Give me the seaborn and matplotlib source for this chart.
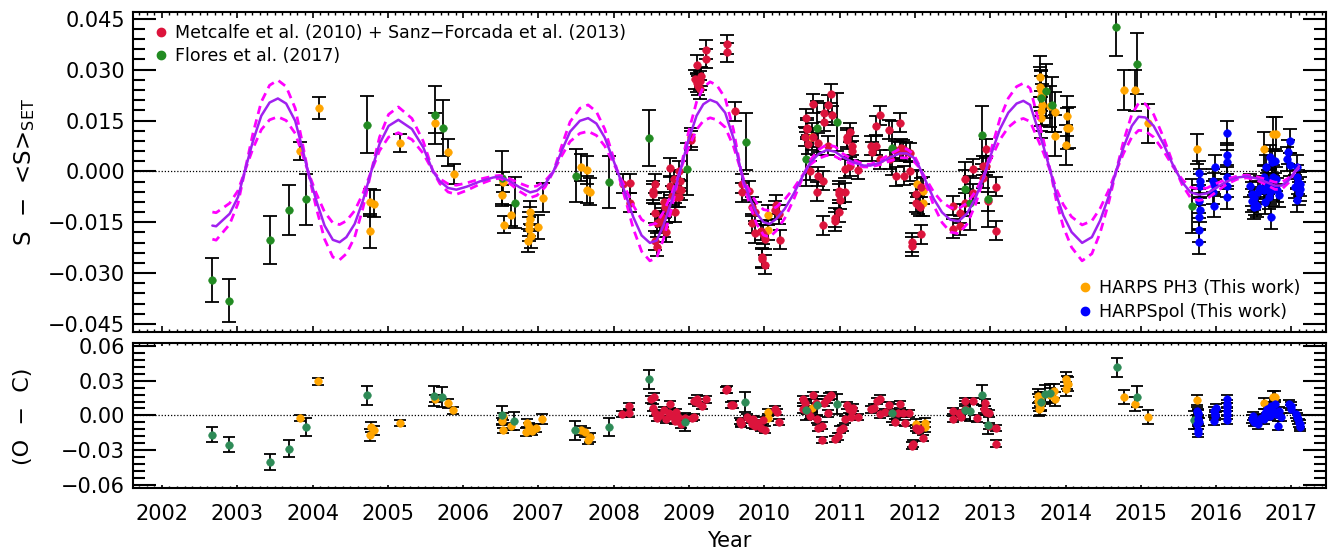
import numpy as np
import pandas as pd
import matplotlib
matplotlib.use("Agg")
import matplotlib.pyplot as plt
from matplotlib.ticker import MultipleLocator, FuncFormatter
from matplotlib.lines import Line2D
import seaborn as sns

# ---- fitted cycle (solid) and its two dashed envelopes ----
fit_year = [2002.67, 2002.72, 2002.90, 2003.01, 2003.10, 2003.21, 2003.32, 2003.43, 2003.54, 2003.65,
            2003.77, 2003.85, 2003.94, 2004.05, 2004.16, 2004.27, 2004.36, 2004.45, 2004.56, 2004.67,
            2004.78, 2004.89, 2005.01, 2005.14, 2005.32, 2005.47, 2005.60, 2005.69, 2005.80, 2005.91,
            2006.05, 2006.22, 2006.40, 2006.49, 2006.62, 2006.75, 2006.89, 2006.98, 2007.09, 2007.20,
            2007.31, 2007.42, 2007.55, 2007.66, 2007.77, 2007.88, 2007.99, 2008.08, 2008.17, 2008.26,
            2008.37, 2008.48, 2008.57, 2008.66, 2008.77, 2008.88, 2008.99, 2009.10, 2009.19, 2009.28,
            2009.37, 2009.48, 2009.59, 2009.68, 2009.72, 2009.81, 2009.90, 2009.99, 2010.07, 2010.16,
            2010.27, 2010.39, 2010.50, 2010.61, 2010.72, 2010.83, 2010.94, 2011.05, 2011.19, 2011.32,
            2011.41, 2011.54, 2011.67, 2011.80, 2011.89, 2011.98, 2012.05, 2012.14, 2012.25, 2012.36,
            2012.47, 2012.58, 2012.69, 2012.80, 2012.91, 2013.02, 2013.13, 2013.24, 2013.35, 2013.44,
            2013.53, 2013.62, 2013.71, 2013.80, 2013.88, 2013.97, 2014.08, 2014.22, 2014.35, 2014.46,
            2014.57, 2014.66, 2014.77, 2014.88, 2014.97, 2015.06, 2015.17, 2015.30, 2015.43, 2015.55,
            2015.66, 2015.77, 2015.88, 2016.01, 2016.14, 2016.28, 2016.41, 2016.54, 2016.67, 2016.78,
            2016.87, 2016.96, 2017.04, 2017.10]
fit_s = [-0.0160, -0.0162, -0.0125, -0.0076, 0.0000, 0.0090, 0.0164, 0.0203, 0.0215, 0.0200,
         0.0149, 0.0081, 0.0000, -0.0086, -0.0160, -0.0202, -0.0209, -0.0194, -0.0155, -0.0086,
         0.0000, 0.0081, 0.0134, 0.0152, 0.0125, 0.0071, 0.0000, -0.0029, -0.0049, -0.0054,
         -0.0045, -0.0030, -0.0018, -0.0016, -0.0029, -0.0047, -0.0062, -0.0057, -0.0037, 0.0000,
         0.0061, 0.0117, 0.0149, 0.0157, 0.0141, 0.0100, 0.0036, -0.0018, -0.0076, -0.0135,
         -0.0189, -0.0211, -0.0204, -0.0160, -0.0086, 0.0000, 0.0090, 0.0164, 0.0198, 0.0211,
         0.0203, 0.0173, 0.0098, 0.0012, -0.0027, -0.0081, -0.0125, -0.0150, -0.0155, -0.0140,
         -0.0111, -0.0066, -0.0018, 0.0026, 0.0051, 0.0063, 0.0058, 0.0041, 0.0026, 0.0017,
         0.0017, 0.0026, 0.0041, 0.0053, 0.0053, 0.0041, 0.0017, -0.0027, -0.0081, -0.0121,
         -0.0143, -0.0147, -0.0125, -0.0081, -0.0018, 0.0056, 0.0125, 0.0173, 0.0200, 0.0208,
         0.0196, 0.0134, 0.0071, 0.0000, -0.0071, -0.0130, -0.0179, -0.0211, -0.0194, -0.0145,
         -0.0076, -0.0008, 0.0071, 0.0134, 0.0161, 0.0159, 0.0134, 0.0081, 0.0017, -0.0032,
         -0.0062, -0.0069, -0.0065, -0.0047, -0.0030, -0.0018, -0.0015, -0.0021, -0.0032, -0.0042,
         -0.0042, -0.0027, -0.0003, 0.0015]
fit_outer = [-0.0200, -0.0203, -0.0156, -0.0095, 0.0000, 0.0113, 0.0205, 0.0254, 0.0269, 0.0250,
             0.0186, 0.0101, 0.0000, -0.0108, -0.0200, -0.0253, -0.0261, -0.0243, -0.0194, -0.0108,
             0.0000, 0.0101, 0.0168, 0.0190, 0.0156, 0.0089, 0.0000, -0.0036, -0.0061, -0.0068,
             -0.0056, -0.0038, -0.0023, -0.0020, -0.0036, -0.0059, -0.0078, -0.0071, -0.0046, 0.0000,
             0.0076, 0.0146, 0.0186, 0.0196, 0.0176, 0.0125, 0.0045, -0.0023, -0.0095, -0.0169,
             -0.0236, -0.0264, -0.0255, -0.0200, -0.0108, 0.0000, 0.0113, 0.0205, 0.0248, 0.0264,
             0.0254, 0.0216, 0.0123, 0.0015, -0.0034, -0.0101, -0.0156, -0.0188, -0.0194, -0.0175,
             -0.0139, -0.0083, -0.0023, 0.0033, 0.0064, 0.0079, 0.0073, 0.0051, 0.0033, 0.0021,
             0.0021, 0.0033, 0.0051, 0.0066, 0.0066, 0.0051, 0.0021, -0.0034, -0.0101, -0.0151,
             -0.0179, -0.0184, -0.0156, -0.0101, -0.0023, 0.0070, 0.0156, 0.0216, 0.0250, 0.0260,
             0.0245, 0.0168, 0.0089, 0.0000, -0.0089, -0.0163, -0.0224, -0.0264, -0.0243, -0.0181,
             -0.0095, -0.0010, 0.0089, 0.0168, 0.0201, 0.0199, 0.0168, 0.0101, 0.0021, -0.0040,
             -0.0078, -0.0086, -0.0081, -0.0059, -0.0038, -0.0023, -0.0019, -0.0026, -0.0040, -0.0053,
             -0.0053, -0.0034, -0.0004, 0.0019]
fit_inner = [-0.0120, -0.0122, -0.0094, -0.0057, 0.0000, 0.0068, 0.0123, 0.0152, 0.0161, 0.0150,
             0.0112, 0.0061, 0.0000, -0.0065, -0.0120, -0.0152, -0.0157, -0.0146, -0.0116, -0.0065,
             0.0000, 0.0061, 0.0101, 0.0114, 0.0094, 0.0053, 0.0000, -0.0022, -0.0037, -0.0041,
             -0.0034, -0.0023, -0.0014, -0.0012, -0.0022, -0.0035, -0.0047, -0.0043, -0.0028, 0.0000,
             0.0046, 0.0088, 0.0112, 0.0118, 0.0106, 0.0075, 0.0027, -0.0014, -0.0057, -0.0101,
             -0.0142, -0.0158, -0.0153, -0.0120, -0.0065, 0.0000, 0.0068, 0.0123, 0.0149, 0.0158,
             0.0152, 0.0130, 0.0074, 0.0009, -0.0020, -0.0061, -0.0094, -0.0113, -0.0116, -0.0105,
             -0.0083, -0.0050, -0.0014, 0.0020, 0.0038, 0.0047, 0.0044, 0.0031, 0.0020, 0.0013,
             0.0013, 0.0020, 0.0031, 0.0040, 0.0040, 0.0031, 0.0013, -0.0020, -0.0061, -0.0091,
             -0.0107, -0.0110, -0.0094, -0.0061, -0.0014, 0.0042, 0.0094, 0.0130, 0.0150, 0.0156,
             0.0147, 0.0101, 0.0053, 0.0000, -0.0053, -0.0098, -0.0134, -0.0158, -0.0146, -0.0109,
             -0.0057, -0.0006, 0.0053, 0.0101, 0.0121, 0.0119, 0.0101, 0.0061, 0.0013, -0.0024,
             -0.0047, -0.0052, -0.0049, -0.0035, -0.0023, -0.0014, -0.0011, -0.0016, -0.0024, -0.0032,
             -0.0032, -0.0020, -0.0002, 0.0011]

# ---- Metcalfe et al. (2010) + Sanz-Forcada et al. (2013) ----
red_t = [2008.12, 2008.21, 2008.21, 2008.52, 2008.52, 2008.55, 2008.55, 2008.57, 2008.55, 2008.58,
         2008.61, 2008.64, 2008.67, 2008.68, 2008.67, 2008.70, 2008.73, 2008.75, 2008.75, 2008.77,
         2008.80, 2008.81, 2008.83, 2008.85, 2008.87, 2008.87, 2008.88, 2008.89, 2009.02, 2009.03,
         2009.10, 2009.08, 2009.10, 2009.14, 2009.16, 2009.12, 2009.14, 2009.23, 2009.23, 2009.50, 2009.50, 2009.61,
         2009.70, 2009.70, 2009.79, 2009.83, 2009.87, 2009.84, 2009.88, 2009.95, 2009.98, 2010.01,
         2009.97, 2009.97, 2010.01, 2010.15, 2010.14, 2010.20, 2010.21,
         2010.55, 2010.57, 2010.57, 2010.54, 2010.58, 2010.64, 2010.65, 2010.71, 2010.60, 2010.71,
         2010.70, 2010.78, 2010.78, 2010.79, 2010.79, 2010.85, 2010.89, 2010.90, 2010.85, 2010.99,
         2010.99, 2011.00, 2011.07, 2010.99, 2010.94, 2010.94, 2011.07, 2011.10, 2011.10, 2011.14,
         2011.14, 2011.16, 2011.17, 2011.24,
         2011.42, 2011.43, 2011.48, 2011.48, 2011.53, 2011.53, 2011.66, 2011.67, 2011.74, 2011.75,
         2011.80, 2011.80, 2011.82, 2011.84, 2011.86, 2011.88, 2011.93, 2011.94,
         2011.96, 2011.96, 2012.02, 2012.01, 2012.04, 2012.07, 2012.08, 2012.08,
         2012.51, 2012.51, 2012.60, 2012.60, 2012.66, 2012.66, 2012.77, 2012.77, 2012.91, 2012.91,
         2012.94, 2012.94, 2012.97, 2013.08, 2013.08]
red_s = [-0.0037, -0.0035, -0.0093, -0.0057, -0.0066, -0.0037, -0.0123, -0.0153, -0.0204, -0.0223,
         -0.0147, -0.0135, -0.0089, -0.0106, -0.0165, -0.0180, -0.0120, 0.0010, -0.0042, -0.0072,
         -0.0023, -0.0120, -0.0077, -0.0052, 0.0002, -0.0077, -0.0029, -0.0056, 0.0100, 0.0092,
         0.0314, 0.0272, 0.0262, 0.0267, 0.0281, 0.0252, 0.0242, 0.0358, 0.0332, 0.0375, 0.0351, 0.0178,
         -0.0037, -0.0062, -0.0057, -0.0104, -0.0119, -0.0153, -0.0183, -0.0175, -0.0185, -0.0200,
         -0.0253, -0.0258, -0.0275, -0.0098, -0.0114, -0.0126, -0.0202,
         0.0156, 0.0129, 0.0124, 0.0102, 0.0080, 0.0200, 0.0100, 0.0085, 0.0002, -0.0015,
         -0.0060, -0.0028, -0.0159, 0.0173, 0.0146, 0.0197, 0.0229, 0.0166, 0.0075, -0.0057,
         -0.0066, -0.0084, -0.0062, -0.0120, -0.0137, -0.0147, 0.0007, 0.0100, 0.0093, 0.0115,
         0.0015, 0.0075, 0.0061, 0.0004,
         0.0075, 0.0058, 0.0075, 0.0134, 0.0165, 0.0036, 0.0123, 0.0036, 0.0063, -0.0015,
         0.0144, 0.0060, 0.0068, 0.0065, -0.0013, 0.0060, 0.0055, 0.0000,
         -0.0209, -0.0221, -0.0066, -0.0093, -0.0098, -0.0104, -0.0047, -0.0186,
         -0.0101, -0.0170, -0.0123, -0.0160, -0.0023, -0.0093, 0.0007, -0.0065, 0.0017, -0.0021,
         0.0067, 0.0017, -0.0088, -0.0046, -0.0175]
red_err = 0.0028

red_rt = [2008.11, 2008.20, 2008.20, 2008.50, 2008.53, 2008.52, 2008.55, 2008.57, 2008.62, 2008.67,
          2008.70, 2008.73, 2008.75, 2008.78, 2008.81, 2008.83, 2008.85, 2008.89, 2008.94, 2009.04,
          2009.06, 2009.07, 2009.12, 2009.17, 2009.10, 2009.22, 2009.49, 2009.50, 2009.56, 2009.59,
          2009.68, 2009.69, 2009.77, 2009.80, 2009.83, 2009.85, 2009.91, 2009.96, 2010.01, 2009.98,
          2009.69, 2009.87, 2010.14, 2010.17, 2010.20,
          2010.52, 2010.54, 2010.52, 2010.57, 2010.60, 2010.64, 2010.69, 2010.70, 2010.71, 2010.77,
          2010.77, 2010.79, 2010.83, 2010.86, 2010.89, 2010.85, 2010.94, 2010.98, 2011.01, 2011.05,
          2011.07, 2011.10, 2011.13, 2011.16, 2011.15, 2011.18, 2011.25,
          2011.42, 2011.46, 2011.49, 2011.54, 2011.54, 2011.60, 2011.65, 2011.69, 2011.73, 2011.77,
          2011.80, 2011.84, 2011.87, 2011.92,
          2011.96, 2011.97, 2012.02, 2012.04, 2012.07, 2012.11,
          2012.50, 2012.50, 2012.58, 2012.61, 2012.66, 2012.66, 2012.77, 2012.83, 2012.93, 2012.92,
          2012.95, 2012.99, 2012.99, 2013.08, 2013.08]
red_r = [0.0014, 0.0081, 0.0017, 0.0139, 0.0162, 0.0067, 0.0023, -0.0020, 0.0000, 0.0046,
         -0.0035, 0.0017, 0.0096, -0.0006, -0.0049, 0.0029, -0.0012, -0.0078, -0.0020, -0.0020,
         -0.0012, 0.0125, 0.0110, 0.0081, 0.0145, 0.0139, 0.0220, 0.0226, 0.0090, 0.0093,
         -0.0049, -0.0064, -0.0012, -0.0035, -0.0078, -0.0029, -0.0064, -0.0107, -0.0122, -0.0043,
         -0.0071, -0.0093, 0.0052, 0.0029, -0.0058,
         0.0139, 0.0110, 0.0052, 0.0038, -0.0006, 0.0174, 0.0110, -0.0035, -0.0107, -0.0087,
         -0.0214, 0.0110, 0.0139, 0.0162, 0.0174, 0.0017, -0.0203, -0.0180, -0.0122, -0.0107,
         -0.0035, 0.0087, 0.0052, 0.0038, -0.0012, 0.0067, -0.0014,
         0.0052, 0.0067, 0.0125, 0.0145, 0.0009, 0.0029, 0.0087, 0.0023, -0.0058, 0.0017,
         0.0096, 0.0017, -0.0064, 0.0017,
         -0.0261, -0.0243, -0.0107, -0.0122, -0.0116, -0.0194,
         0.0038, -0.0029, 0.0017, -0.0012, 0.0125, 0.0052, 0.0125, -0.0026, 0.0110, 0.0052,
         0.0029, -0.0093, 0.0017, -0.0107, -0.0243]

# ---- Flores et al. (2017) ----
grn_t = [2002.66, 2002.89, 2003.43, 2003.69, 2003.92, 2004.73, 2005.62, 2005.73, 2006.52, 2006.69,
         2007.50, 2007.94, 2008.47, 2008.97, 2009.75, 2010.55, 2010.70, 2010.96, 2011.70, 2012.66,
         2012.73, 2012.89, 2012.97, 2013.67, 2013.74, 2013.82, 2014.67, 2014.95, 2015.68]
grn_s = [-0.0321, -0.0382, -0.0202, -0.0113, -0.0083, 0.0137, 0.0167, 0.0128, -0.0019, -0.0092,
         -0.0013, -0.0032, 0.0098, 0.0007, 0.0088, 0.0036, 0.0127, 0.0146, 0.0068, -0.0052,
         -0.0093, 0.0107, -0.0083, 0.0215, 0.0237, 0.0197, 0.0426, 0.0318, -0.0103]
grn_e = [0.0065, 0.0063, 0.0070, 0.0074, 0.0075, 0.0084, 0.0086, 0.0083, 0.0078, 0.0076,
         0.0078, 0.0077, 0.0083, 0.0078, 0.0083, 0.0080, 0.0080, 0.0085, 0.0080, 0.0080,
         0.0080, 0.0085, 0.0080, 0.0080, 0.0080, 0.0080, 0.0085, 0.0090, 0.0080]
grn_rt = [2002.66, 2002.89, 2003.44, 2003.69, 2003.92, 2004.73, 2005.61, 2005.72, 2006.51, 2006.68,
          2007.49, 2007.94, 2008.47, 2008.95, 2009.74, 2010.55, 2010.70, 2010.96, 2011.69, 2012.66,
          2012.73, 2012.89, 2012.97, 2013.67, 2013.73, 2013.80, 2014.68, 2014.95, 2015.70]
grn_r = [-0.0165, -0.0252, -0.0403, -0.0287, -0.0099, 0.0174, 0.0168, 0.0159, 0.0000, -0.0049,
         -0.0130, -0.0099, 0.0313, -0.0058, 0.0116, 0.0043, 0.0087, 0.0096, 0.0023, 0.0046,
         0.0035, 0.0174, -0.0080, 0.0120, 0.0183, 0.0191, 0.0414, 0.0162, -0.0041]

# ---- HARPS PH3 (this work) ----
org_t = [2003.83, 2004.08, 2004.77, 2004.81, 2004.77, 2005.16, 2005.63, 2005.80, 2005.88,
         2006.53, 2006.52, 2006.54, 2006.64, 2006.89, 2006.89, 2006.88, 2006.87, 2006.86, 2006.90, 2006.99, 2007.06,
         2007.57, 2007.64, 2007.65, 2007.68, 2010.05, 2010.05, 2010.63, 2012.03, 2012.11, 2012.11,
         2013.66, 2013.66, 2013.67, 2013.67, 2013.69, 2013.67, 2013.67, 2013.79, 2013.86, 2013.86,
         2014.02, 2014.02, 2014.04, 2014.01,
         2014.78, 2014.92, 2015.09, 2015.75, 2016.63, 2016.76, 2016.79]
org_s = [0.0061, 0.0186, -0.0091, -0.0096, -0.0176, 0.0083, 0.0142, 0.0056, -0.0008,
         -0.0032, -0.0071, -0.0157, -0.0130, -0.0121, -0.0141, -0.0156, -0.0170, -0.0204, -0.0192, -0.0165, -0.0078,
         0.0012, 0.0004, -0.0054, -0.0060, -0.0128, -0.0173, 0.0102, -0.0037, -0.0057, -0.0093,
         0.0279, 0.0249, 0.0239, 0.0222, 0.0197, 0.0178, 0.0158, 0.0192, 0.0175, 0.0105,
         0.0163, 0.0127, 0.0129, 0.0078,
         0.0240, 0.0239, 0.0142, 0.0066, 0.0067, 0.0109, 0.0111]
org_e = [0.0027, 0.0033, 0.0040, 0.0040, 0.0050, 0.0026, 0.0030, 0.0040, 0.0030,
         0.0030, 0.0030, 0.0025, 0.0030, 0.0035, 0.0035, 0.0035, 0.0035, 0.0035, 0.0035, 0.0035, 0.0043,
         0.0040, 0.0040, 0.0040, 0.0040, 0.0030, 0.0030, 0.0040, 0.0040, 0.0040, 0.0040,
         0.0060, 0.0060, 0.0060, 0.0060, 0.0060, 0.0060, 0.0060, 0.0060, 0.0060, 0.0060,
         0.0060, 0.0060, 0.0060, 0.0060,
         0.0059, 0.0060, 0.0057, 0.0045, 0.0050, 0.0050, 0.0050]
org_rt = [2003.84, 2004.07, 2004.78, 2004.82, 2004.77, 2005.16, 2005.62, 2005.80, 2005.87,
          2006.53, 2006.52, 2006.53, 2006.64, 2006.85, 2006.88, 2006.90, 2006.84, 2006.92, 2006.97, 2006.89, 2007.05,
          2007.56, 2007.62, 2007.66, 2007.68, 2010.05, 2010.05, 2010.63, 2012.02, 2012.14, 2012.14,
          2013.64, 2013.64, 2013.65, 2013.66, 2013.65, 2013.66, 2013.67, 2013.79, 2013.85, 2013.86,
          2014.01, 2014.02, 2014.01, 2014.03,
          2014.78, 2014.92, 2015.10, 2015.75, 2016.63, 2016.76, 2016.78]
org_r = [-0.0020, 0.0293, -0.0099, -0.0128, -0.0171, -0.0064, 0.0145, 0.0104, 0.0046,
         -0.0006, -0.0049, -0.0130, -0.0093, -0.0064, -0.0099, -0.0122, -0.0145, -0.0136, -0.0107, -0.0115, -0.0029,
         -0.0128, -0.0145, -0.0209, -0.0190, 0.0029, -0.0020, 0.0067, -0.0070, -0.0064, -0.0099,
         0.0125, 0.0168, 0.0096, 0.0067, 0.0052, 0.0145, 0.0110, 0.0174, 0.0212, 0.0145,
         0.0313, 0.0284, 0.0226, 0.0270,
         0.0159, 0.0096, -0.0014, 0.0133, 0.0104, 0.0159, 0.0162]

# ---- HARPSpol (this work) ----
blu_t = [2015.77, 2015.78, 2015.78, 2015.77, 2015.78, 2015.77, 2015.77, 2015.77,
         2015.96, 2015.97, 2015.96, 2015.97, 2015.99,
         2016.15, 2016.14, 2016.15, 2016.15, 2016.15, 2016.15,
         2016.45, 2016.47, 2016.48, 2016.50, 2016.50, 2016.52, 2016.54, 2016.56, 2016.58, 2016.63,
         2016.63, 2016.65, 2016.66, 2016.68, 2016.69, 2016.70, 2016.71, 2016.72, 2016.73, 2016.74,
         2016.75, 2016.76, 2016.78, 2016.80, 2016.81, 2016.83,
         2016.94, 2016.96, 2016.98, 2016.98, 2017.05, 2017.07, 2017.07, 2017.08, 2017.09, 2017.10,
         2017.11, 2017.12]
blu_s = [-0.0004, -0.0029, -0.0042, -0.0088, -0.0115, -0.0135, -0.0173, -0.0209,
         -0.0027, -0.0039, -0.0062, -0.0101, 0.0013,
         0.0113, 0.0049, 0.0027, -0.0017, -0.0042, -0.0077,
         -0.0042, -0.0066, -0.0086, -0.0106, -0.0080, -0.0095, -0.0101, -0.0062, -0.0048, -0.0017,
         -0.0056, -0.0091, 0.0013, -0.0040, -0.0032, -0.0075, 0.0043, -0.0062, -0.0136, 0.0028,
         -0.0017, -0.0050, 0.0031, -0.0022, -0.0056, -0.0071,
         0.0037, 0.0057, 0.0089, 0.0020, -0.0045, 0.0012, -0.0017, -0.0084, -0.0032, -0.0065,
         -0.0052, -0.0037]
blu_err = 0.0035
blu_rt = [2015.75, 2015.76, 2015.76, 2015.75, 2015.76, 2015.76, 2015.77, 2015.76,
          2015.97, 2015.98, 2015.97, 2016.00, 2015.99,
          2016.15, 2016.14, 2016.15, 2016.15, 2016.15, 2016.15,
          2016.48, 2016.50, 2016.55, 2016.49, 2016.53, 2016.60, 2016.63, 2016.65, 2016.68, 2016.70,
          2016.71, 2016.73, 2016.76, 2016.78, 2016.80, 2016.82, 2016.83, 2016.86,
          2016.97, 2016.99, 2017.00, 2017.06, 2017.08, 2017.09, 2017.10, 2017.11, 2017.12]
blu_r = [0.0038, 0.0009, -0.0035, -0.0078, -0.0122, -0.0150, -0.0060, 0.0020,
         0.0038, -0.0006, -0.0049, 0.0067, 0.0015,
         0.0145, 0.0096, 0.0038, 0.0000, -0.0043, 0.0070,
         -0.0029, -0.0058, -0.0078, -0.0006, -0.0045, -0.0020, -0.0035, 0.0017, 0.0052, 0.0025,
         -0.0006, 0.0081, 0.0038, 0.0096, 0.0009, -0.0087, 0.0038, -0.0012,
         0.0096, 0.0052, 0.0081, 0.0009, -0.0012, -0.0035, -0.0064, -0.0078, -0.0099]

RED = "#DC143C"
GREEN = "#228B22"
GREEN2 = "#2E8B57"
ORANGE = "#FFA500"
BLUE = "#0000FF"

sns.set_style("ticks")
plt.rcParams['font.family'] = ['DejaVu Sans']
plt.rcParams['text.color'] = 'black'
plt.rcParams['axes.labelcolor'] = 'black'

fig = plt.figure(figsize=(13.29, 5.51), dpi=100)
ax1 = fig.add_axes([0.1003, 0.398, 0.8975, 0.5808])
ax2 = fig.add_axes([0.1003, 0.1138, 0.8975, 0.2632])


def draw_set(ax, t, v, e, color, cap):
    df = pd.DataFrame({"t": t, "v": v})
    ax.errorbar(df.t, df.v, yerr=e, fmt="none", ecolor="black",
                elinewidth=1.3, capsize=cap, capthick=1.3, zorder=2)
    sns.scatterplot(data=df, x="t", y="v", color=color, s=30, edgecolor=color,
                    linewidth=0.4, ax=ax, zorder=3, legend=False)


for ax in (ax1, ax2):
    ax.axhline(0, color="black", lw=0.9, ls=(0, (1, 1.5)), zorder=1)

# top panel
draw_set(ax1, org_t, org_s, org_e, ORANGE, 5)
draw_set(ax1, red_t, red_s, red_err, RED, 5)
draw_set(ax1, grn_t, grn_s, grn_e, GREEN, 5)
draw_set(ax1, blu_t, blu_s, blu_err, BLUE, 5)

fit = pd.DataFrame({"t": fit_year, "s": fit_s, "hi": fit_outer, "lo": fit_inner})
sns.lineplot(data=fit, x="t", y="hi", color="#FF00FF", lw=2, linestyle=(0, (3, 2)), ax=ax1, zorder=4)
sns.lineplot(data=fit, x="t", y="lo", color="#FF00FF", lw=2, linestyle=(0, (3, 2)), ax=ax1, zorder=4)
sns.lineplot(data=fit, x="t", y="s", color="#A020F0", lw=1.8, ax=ax1, zorder=5)

# residual panel
draw_set(ax2, org_rt, org_r, org_e, ORANGE, 4)
draw_set(ax2, red_rt, red_r, red_err, RED, 4)
draw_set(ax2, grn_rt, grn_r, grn_e, GREEN2, 4)
draw_set(ax2, blu_rt, blu_r, blu_err, BLUE, 4)


def fmt(nd):
    return FuncFormatter(lambda v, p: f"{v:.{nd}f}".replace("-", "\u2212") if abs(v) > 1e-9 else f"{0:.{nd}f}")


for ax in (ax1, ax2):
    ax.set_xlim(2001.62, 2017.46)
    ax.xaxis.set_major_locator(MultipleLocator(1))
    ax.xaxis.set_minor_locator(MultipleLocator(0.1))
    ax.tick_params(which="both", direction="in", top=True, right=True,
                   colors="black", labelsize=15)
    ax.set_xlabel("")
    ax.set_ylabel("")
    for sp in ax.spines.values():
        sp.set_linewidth(1.5)
        sp.set_color("black")

ax1.set_ylim(-0.0473, 0.0471)
ax1.yaxis.set_major_locator(MultipleLocator(0.015))
ax1.yaxis.set_minor_locator(MultipleLocator(0.003))
ax1.yaxis.set_major_formatter(fmt(3))
ax1.tick_params(axis="y", which="major", length=16.5, width=1.5, pad=6)
ax1.tick_params(axis="y", which="minor", length=8.5, width=1.5)
ax1.tick_params(axis="x", which="major", length=4.5, width=1.2)
ax1.tick_params(axis="x", which="minor", length=2.3, width=1.0)
ax1.tick_params(axis="x", labelbottom=False)

ax2.set_ylim(-0.0629, 0.0623)
ax2.yaxis.set_major_locator(MultipleLocator(0.03))
ax2.yaxis.set_minor_locator(MultipleLocator(0.006))
ax2.yaxis.set_major_formatter(fmt(2))
ax2.tick_params(axis="y", which="major", length=16.5, width=1.5, pad=6)
ax2.tick_params(axis="y", which="minor", length=8.5, width=1.5)
ax2.tick_params(axis="x", which="major", length=2.5, width=1.2, pad=11)
ax2.tick_params(axis="x", which="minor", length=1.3, width=1.0)

# legends
h1 = [Line2D([], [], marker="o", ls="", color=RED, ms=6),
      Line2D([], [], marker="o", ls="", color=GREEN, ms=6)]
leg1 = ax1.legend(h1, ["Metcalfe et al. (2010) + Sanz\u2212Forcada et al. (2013)", "Flores et al. (2017)"],
                  loc="upper left", bbox_to_anchor=(0.0174, 0.9616), frameon=False, fontsize=12.5,
                  handlelength=0.8, handletextpad=0.41, labelspacing=0.29, borderpad=0, borderaxespad=0,
                  labelcolor="black")
ax1.add_artist(leg1)
h2 = [Line2D([], [], marker="o", ls="", color=ORANGE, ms=6),
      Line2D([], [], marker="o", ls="", color=BLUE, ms=6)]
ax1.legend(h2, ["HARPS PH3 (This work)", "HARPSpol (This work)"],
           loc="upper left", bbox_to_anchor=(0.792, 0.1647), frameon=False, fontsize=12.5,
           handlelength=0.8, handletextpad=0.41, labelspacing=0.35, borderpad=0, borderaxespad=0,
           labelcolor="black")

fig.text(25 / 1329, 1 - 171.7 / 551, "S  \u2212  <S>$_{\\rm SET}$", rotation=90,
         ha="center", va="center", fontsize=16.5, color="black")
fig.text(23 / 1329, 1 - 416 / 551, "(O  \u2212  C)", rotation=90,
         ha="center", va="center", fontsize=16, color="black")
fig.text(0.549, 1 - 531 / 551, "Year", ha="center", va="top", fontsize=15, color="black")

fig.savefig("out.png", dpi=100)
